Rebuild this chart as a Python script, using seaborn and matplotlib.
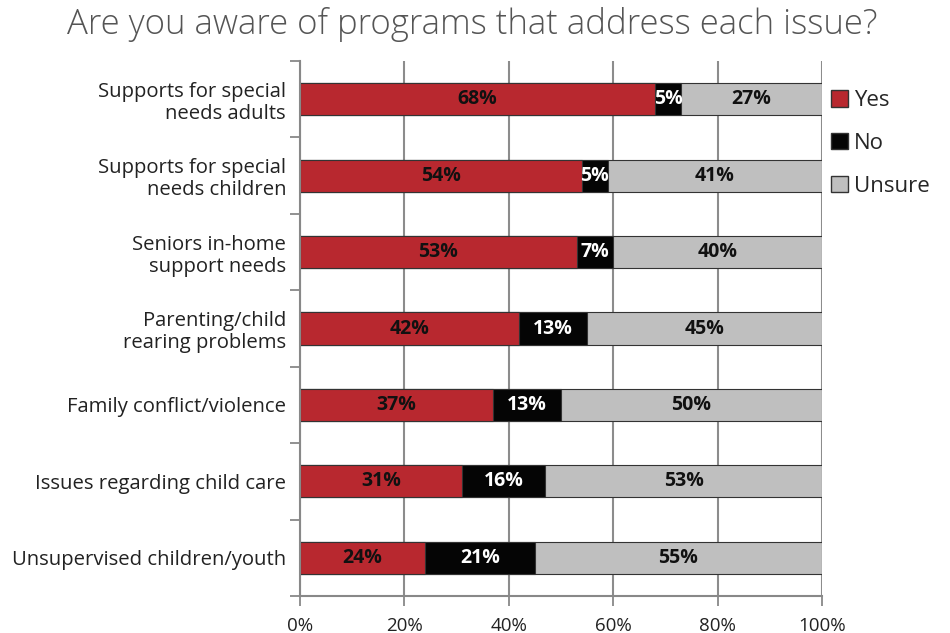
import numpy as np
import pandas as pd
import matplotlib.pyplot as plt
import seaborn as sns
from matplotlib.patches import Patch

categories = [
    'Supports for special\nneeds adults',
    'Supports for special\nneeds children',
    'Seniors in-home\nsupport needs',
    'Parenting/child\nrearing problems',
    'Family conflict/violence',
    'Issues regarding child care',
    'Unsupervised children/youth',
]
yes = [68, 54, 53, 42, 37, 31, 24]
no = [5, 5, 7, 13, 13, 16, 21]
unsure = [27, 41, 40, 45, 50, 53, 55]

RED = '#B8282F'
BLACK = '#050505'
GRAY = '#BFBFBF'


def plot(out_file_path):
    df = pd.DataFrame({'issue': categories, 'yes': yes, 'no': no, 'unsure': unsure})
    df['yes_no'] = df['yes'] + df['no']
    df['total'] = df['yes_no'] + df['unsure']

    sns.set_style('white')
    plt.rcParams['font.family'] = ['Open Sans', 'DejaVu Sans']

    fig = plt.figure(figsize=(9.5, 6.33), dpi=100)
    ax = fig.add_axes([300 / 950, 1 - 596 / 633, 522 / 950, 535 / 633])

    width = 0.42
    bar_kw = dict(orient='h', width=width, edgecolor='#333333', linewidth=0.8,
                  saturation=1, ax=ax)
    sns.barplot(data=df, x='total', y='issue', color=GRAY, **bar_kw)
    sns.barplot(data=df, x='yes_no', y='issue', color=BLACK, **bar_kw)
    sns.barplot(data=df, x='yes', y='issue', color=RED, **bar_kw)

    # segment labels
    lab_kw = dict(ha='center', va='center', fontsize=14, fontweight='bold')
    for i in range(len(categories)):
        ax.text(yes[i] / 2, i, f'{yes[i]}%', color='#111111', **lab_kw)
        ax.text(yes[i] + no[i] / 2, i, f'{no[i]}%', color='white', **lab_kw)
        ax.text(yes[i] + no[i] + unsure[i] / 2, i, f'{unsure[i]}%', color='#111111', **lab_kw)

    ax.set_xlim(0, 100)
    ax.set_ylim(len(categories) - 0.5, -0.5)
    ax.set_xticks(np.arange(0, 101, 20))
    ax.set_xticklabels([f'{v}%' for v in range(0, 101, 20)], fontsize=13.5, color='#222222')
    ax.set_yticks(range(len(categories)))
    ax.set_yticklabels(categories, fontsize=14.6, color='#222222', linespacing=1.15)
    ax.set_yticks(np.arange(-0.5, len(categories), 1), minor=True)
    ax.tick_params(axis='y', which='major', length=0, pad=10)
    ax.tick_params(axis='y', which='minor', length=7, width=1.3, color='#888888', left=True)
    ax.tick_params(axis='x', length=7, width=1.3, color='#888888', bottom=True, pad=8)
    ax.set_xlabel('')
    ax.set_ylabel('')

    ax.grid(axis='x', color='#8c8c8c', linewidth=1.5)
    ax.set_axisbelow(True)
    for side in ['top', 'right']:
        ax.spines[side].set_visible(False)
    for side in ['left', 'bottom']:
        ax.spines[side].set_color('#888888')
        ax.spines[side].set_linewidth(1.5)

    handles = [Patch(facecolor=RED, edgecolor='#333333', label='Yes'),
               Patch(facecolor=BLACK, edgecolor='#333333', label='No'),
               Patch(facecolor=GRAY, edgecolor='#333333', label='Unsure')]
    ax.legend(handles=handles, loc='upper left', bbox_to_anchor=(1.0, 0.962),
              frameon=False, fontsize=16, handlelength=0.75, handleheight=0.75,
              handletextpad=0.3, labelspacing=0.98, borderaxespad=0)

    fig.text(0.497, 0.962, 'Are you aware of programs that address each issue?',
             ha='center', va='center', fontsize=25, color='#555555', fontweight='light')

    plt.savefig(out_file_path, dpi=100)


if __name__ == '__main__':
    plot('out.png')
